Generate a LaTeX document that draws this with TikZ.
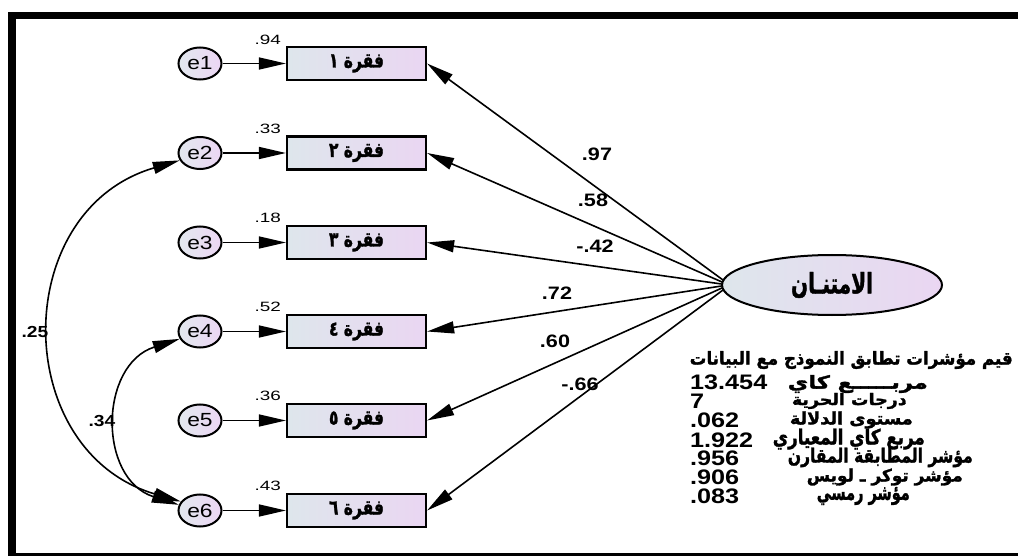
\documentclass[tikz,border=0pt]{standalone}
\usepackage{fontspec}
\usepackage{graphicx}
\setmainfont{Liberation Sans}
\newfontfamily\ar[Script=Arabic, FakeBold=1.6]{DejaVu Sans}
\newfontfamily\lsA{Liberation Sans}[FakeStretch=1.4]
\newfontfamily\lsB{Liberation Sans}[FakeStretch=1.2]
\TeXXeTstate=1
\usetikzlibrary{arrows.meta,shapes.geometric,calc}
\definecolor{boxL}{RGB}{222,230,236}
\definecolor{boxR}{RGB}{234,214,242}
\definecolor{cirL}{RGB}{226,232,238}
\definecolor{cirR}{RGB}{236,214,244}
\newcommand\FW[3]{\resizebox*{#1pt}{#2pt}{\ar\bfseries #3}}
\tikzset{
  itembox/.style={draw, line width=2.2pt, minimum width=139pt, minimum height=33pt,
    inner sep=0pt, left color=boxL, right color=boxR},
  errcirc/.style={ellipse, draw, line width=2pt, minimum width=43pt, minimum height=32pt,
    inner sep=0pt, left color=cirL, right color=cirR, font=\lsB\fontsize{19}{19}\selectfont},
  latent/.style={ellipse, draw, line width=2pt, minimum width=220pt, minimum height=60pt,
    inner sep=0pt, left color=boxL, right color=boxR},
  arr/.style={-{Triangle[length=27pt,width=12pt]}, line width=1.6pt},
  cov/.style={{Triangle[length=27pt,width=12pt]}-{Triangle[length=27pt,width=12pt]}, line width=1.6pt},
  smalllbl/.style={anchor=east, inner sep=0pt, font=\lsA\fontsize{13.5}{13.5}\selectfont},
  loadlbl/.style={inner sep=0pt, font=\lsB\bfseries\fontsize{18}{18}\selectfont},
  covlbl/.style={inner sep=0pt, font=\lsB\bfseries\fontsize{16}{16}\selectfont},
  numlbl/.style={anchor=west, inner sep=0pt, font=\lsB\bfseries\fontsize{21}{21}\selectfont},
  arlbl/.style={anchor=east, inner sep=0pt}
}
\begin{document}
\begin{tikzpicture}[x=1pt,y=-1pt]
\useasboundingbox (0,0) rectangle (1018,556);
\fill[white] (0,0) rectangle (1018,556);
% frame
\fill[black] (8,12) rectangle (1018,19);
\fill[black] (8,12) rectangle (16,556);
\fill[black] (8,553) rectangle (1018,556);

% items
\node[itembox] (b1) at (356.5,63.5) {\FW{55}{18}{\beginR فقرة ١\endR}};
\node[itembox] (b2) at (356.5,153) {\FW{55}{18}{\beginR فقرة ٢\endR}};
\node[itembox] (b3) at (356.5,242.5) {\FW{55}{18}{\beginR فقرة ٣\endR}};
\node[itembox] (b4) at (356.5,331.5) {\FW{55}{18}{\beginR فقرة ٤\endR}};
\node[itembox] (b5) at (356.5,420.5) {\FW{55}{18}{\beginR فقرة ٥\endR}};
\node[itembox] (b6) at (356.5,510.5) {\FW{55}{18}{\beginR فقرة ٦\endR}};

% errors
\node[errcirc] (e1) at (200,63.5) {e1};
\node[errcirc] (e2) at (200,153) {e2};
\node[errcirc] (e3) at (200,242.5) {e3};
\node[errcirc] (e4) at (200,331.5) {e4};
\node[errcirc] (e5) at (200,420.5) {e5};
\node[errcirc] (e6) at (200,510.5) {e6};

% small labels
\node[smalllbl] (r1) at (281,40) {.94};
\node[smalllbl] (r2) at (281,129) {.33};
\node[smalllbl] (r3) at (281,218) {.18};
\node[smalllbl] (r4) at (281,307) {.52};
\node[smalllbl] (r5) at (281,396) {.36};
\node[smalllbl] (r6) at (281,486) {.43};

% latent
\node[latent] (lat) at (832,285) {\FW{82}{26}{\beginR الامتنـان\endR}};

% error arrows
\foreach \i in {1,...,6} { \draw[arr] (e\i) -- (b\i); }

% loadings
\coordinate (s1) at ($(lat.west)+(2,-5)$);
\coordinate (s2) at ($(lat.west)+(1,-3)$);
\coordinate (s3) at ($(lat.west)+(0.5,-1)$);
\coordinate (s4) at ($(lat.west)+(0.5,1)$);
\coordinate (s5) at ($(lat.west)+(1,3)$);
\coordinate (s6) at ($(lat.west)+(2,5)$);
\foreach \i in {1,...,6} { \draw[arr] (s\i) -- (b\i.east); }

\node[loadlbl] (l1) at (597,154) {.97};
\node[loadlbl] (l2) at (593,200) {.58};
\node[loadlbl] (l3) at (595,246) {-.42};
\node[loadlbl] (l4) at (557,293) {.72};
\node[loadlbl] (l5) at (555,341) {.60};
\node[loadlbl] (l6) at (580,384) {-.66};

% covariances
\draw[cov] (e2.200) .. controls +(-171,50) and +(-171,-50) .. (e6.155);
\draw[cov] (e4.200) .. controls +(-81,26) and +(-81,-26) .. (e6.165);
\node[covlbl] (c1) at (35,332) {.25};
\node[covlbl] (c2) at (102,421) {.34};

% fit table
\node[arlbl] (t0) at (1013,360) {\FW{323}{18}{\beginR قيم مؤشرات تطابق النموذج مع البيانات\endR}};
\node[numlbl] (n1) at (690,382) {13.454};
\node[arlbl] (t1) at (928,384) {\FW{140}{18}{\beginR مربـــــع كاي\endR}};
\node[numlbl] (n2) at (690,401.5) {7};
\node[arlbl] (t2) at (907,401) {\FW{115}{16}{\beginR درجات الحرية\endR}};
\node[numlbl] (n3) at (690,420) {.062};
\node[arlbl] (t3) at (913,420) {\FW{123}{17}{\beginR مستوى الدلالة\endR}};
\node[numlbl] (n4) at (690,440) {1.922};
\node[arlbl] (t4) at (925,439) {\FW{152}{21}{\beginR مربع كاي المعياري\endR}};
\node[numlbl] (n5) at (690,458.5) {.956};
\node[arlbl] (t5) at (973,457.5) {\FW{185}{19.5}{\beginR مؤشر المطابقة المقارن\endR}};
\node[numlbl] (n6) at (690,477) {.906};
\node[arlbl] (t6) at (963,477) {\FW{156}{17}{\beginR مؤشر توكر ـ لويس\endR}};
\node[numlbl] (n7) at (690,496.5) {.083};
\node[arlbl] (t7) at (910,496) {\FW{93}{18}{\beginR مؤشر رمسي\endR}};
\end{tikzpicture}
\end{document}
